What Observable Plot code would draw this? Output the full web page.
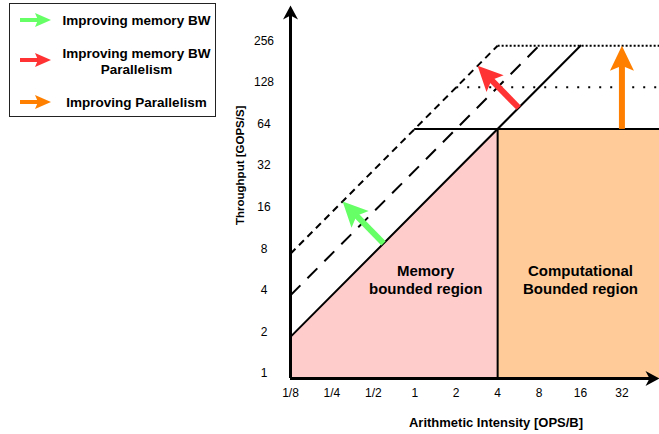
<!DOCTYPE html>
<html>
<head>
<meta charset="utf-8">
<script src="https://cdn.jsdelivr.net/npm/d3@7"></script>
<script src="https://cdn.jsdelivr.net/npm/@observablehq/plot@0.6"></script>
<style>
  body { margin: 0; background: #fff; }
  #chart { position: relative; width: 659px; height: 434px; font-family: "Liberation Sans", Arial, sans-serif; }
  #chart svg { position: absolute; left: 0; top: 0; }
</style>
</head>
<body>
<div id="chart"></div>
<script>
// Axis ticks: arithmetic intensity (OPS/B) and throughput (GOPS/S)
const xTicks = [0.125, 0.25, 0.5, 1, 2, 4, 8, 16, 32];
const xTickLabels = ["1/8", "1/4", "1/2", "1", "2", "4", "8", "16", "32"];
const yTicks = [1, 2, 4, 8, 16, 32, 64, 128, 256];
const xDomain = [0.125, 60];
const yDomain = [1, 500];
const xTitle = "Arithmetic Intensity [OPS/B]";
const yTitle = "Throughput [GOPS/S]";

// Bandwidth roofs (slanted) and compute roofs (flat)
const memoryRoof = [{x: 0.125, y: 2}, {x: 16, y: 256}];
const memoryRoofFaster = [{x: 0.125, y: 4}, {x: 8, y: 256}];
const memoryRoofFastest = [{x: 0.125, y: 8}, {x: 4, y: 256}];
const computeRoof = [{x: 1, y: 64}, {x: 60, y: 64}];
const computeRoof128 = [{x: 2, y: 128}, {x: 60, y: 128}];
const computeRoof256 = [{x: 4, y: 256}, {x: 60, y: 256}];
const ridge = [{x: 4, y: 1}, {x: 4, y: 64}];

// Shaded regions
const memoryRegion = [{x: 0.125, y: 2}, {x: 4, y: 64}];
const computeRegion = [{x1: 4, x2: 60, y1: 1, y2: 64}];
const regionLabels = [
  {x: 1.2, y: 5.2, text: "Memory\nbounded region"},
  {x: 16, y: 5.2, text: "Computational\nBounded region"}
];

// Improvement arrows: tail (x1, y1) to tip (x2, y2)
const arrows = [
  {x1: 0.593, y1: 9.5, x2: 0.299, y2: 19.1, color: "#66ff66"},
  {x1: 5.69, y1: 91, x2: 2.86, y2: 183, color: "#ff3333"},
  {x1: 32, y1: 64, x2: 32, y2: 256, color: "#ff8000"}
];

const legendItems = [
  {lines: ["Improving memory BW"], color: "#66ff66"},
  {lines: ["Improving memory BW", "Parallelism"], color: "#ff3333"},
  {lines: ["Improving Parallelism"], color: "#ff8000"}
];

const W = 659, H = 434, mL = 290, mR = 0, mT = 5, mB = 56;
const pxX = (W - mL - mR) / Math.log2(xDomain[1] / xDomain[0]);
const pxY = (H - mT - mB) / Math.log2(yDomain[1] / yDomain[0]);

// Filled, notched arrowhead pointing up with its tip at the origin
function arrowHead(len, width, notch) {
  return {
    draw(ctx) {
      ctx.moveTo(0, 0);
      ctx.lineTo(width / 2, len);
      ctx.lineTo(0, len - notch);
      ctx.lineTo(-width / 2, len);
      ctx.closePath();
    }
  };
}

// Shaft stops inside the head; head is rotated along the arrow direction
const shafts = arrows.map(a => {
  const dx = Math.log2(a.x2 / a.x1) * pxX;
  const dy = Math.log2(a.y2 / a.y1) * pxY;
  const len = Math.hypot(dx, dy);
  const t = 1 - 14 / len;
  return {
    ...a,
    sx: a.x1 * Math.pow(a.x2 / a.x1, t),
    sy: a.y1 * Math.pow(a.y2 / a.y1, t),
    rotate: Math.atan2(dx, dy) * 180 / Math.PI
  };
});

const yAxisEnd = yDomain[1] / Math.pow(2, 8 / pxY);
const xAxisEnd = xDomain[1] / Math.pow(2, 8 / pxX);

const plot = Plot.plot({
  width: W, height: H,
  marginLeft: mL, marginRight: mR, marginTop: mT, marginBottom: mB,
  style: {fontFamily: '"Liberation Sans", Arial, sans-serif', fontSize: "12px", color: "#000", background: "transparent", overflow: "visible"},
  x: {type: "log", base: 2, domain: xDomain, axis: null},
  y: {type: "log", base: 2, domain: yDomain, axis: null},
  color: {type: "identity"},
  marks: [
    Plot.areaY(memoryRegion, {x: "x", y1: 1, y2: "y", fill: "#ffcccc"}),
    Plot.rect(computeRegion, {x1: "x1", x2: "x2", y1: "y1", y2: "y2", fill: "#ffcc99"}),
    Plot.line(ridge, {x: "x", y: "y", stroke: "#000", strokeWidth: 2}),
    Plot.line(memoryRoof, {x: "x", y: "y", stroke: "#000", strokeWidth: 2}),
    Plot.line(memoryRoofFaster, {x: "x", y: "y", stroke: "#000", strokeWidth: 2, strokeDasharray: "14 10", strokeLinecap: "butt"}),
    Plot.line(memoryRoofFastest, {x: "x", y: "y", stroke: "#000", strokeWidth: 2, strokeDasharray: "7 5", strokeLinecap: "butt"}),
    Plot.line(computeRoof, {x: "x", y: "y", stroke: "#000", strokeWidth: 2}),
    Plot.line(computeRoof128, {x: "x", y: "y", stroke: "#000", strokeWidth: 2, strokeDasharray: "2 9", strokeLinecap: "butt"}),
    Plot.line(computeRoof256, {x: "x", y: "y", stroke: "#000", strokeWidth: 2, strokeDasharray: "2 2", strokeLinecap: "butt"}),
    Plot.text(regionLabels, {x: "x", y: "y", text: "text", fontSize: 15, fontWeight: "bold", lineHeight: 1.2, fill: "#000"}),
    Plot.link(shafts, {x1: "x1", y1: "y1", x2: "sx", y2: "sy", stroke: "color", strokeWidth: 6, strokeLinecap: "butt"}),
    Plot.dot(shafts, {x: "x2", y: "y2", symbol: arrowHead(25, 24, 5), rotate: "rotate", fill: "color", stroke: "none"}),
    // axes with arrowheads
    Plot.ruleX([xDomain[0]], {y1: 1, y2: yAxisEnd, stroke: "#000", strokeWidth: 3}),
    Plot.ruleY([1], {x1: xDomain[0], x2: xAxisEnd, stroke: "#000", strokeWidth: 3}),
    Plot.dot([{x: xDomain[0], y: yDomain[1]}], {x: "x", y: "y", symbol: arrowHead(14, 15, 4), fill: "#000", stroke: "none"}),
    Plot.dot([{x: xDomain[1], y: 1}], {x: "x", y: "y", symbol: arrowHead(14, 15, 4), rotate: 90, fill: "#000", stroke: "none"}),
    Plot.axisX(xTicks, {tickSize: 0, tickPadding: 10, tickFormat: d => xTickLabels[xTicks.indexOf(d)], label: null, fontSize: 12}),
    Plot.axisY(yTicks, {tickSize: 0, tickPadding: 26.5, textAnchor: "middle", dy: -5, label: null, fontSize: 12}),
    Plot.text([xTitle], {frameAnchor: "bottom", dx: 21, dy: 48, text: d => d, fontWeight: "bold", fontSize: 13}),
    Plot.text([yTitle], {frameAnchor: "left", dx: -50, dy: 33, rotate: -90, text: d => d, fontWeight: "bold", fontSize: 11.5})
  ]
});
document.getElementById("chart").appendChild(plot);

// Legend box in the top-left corner
const legend = d3.select("#chart").append("svg")
  .attr("width", 230).attr("height", 125)
  .style("font-family", '"Liberation Sans", Arial, sans-serif');
legend.append("rect").attr("x", 9.5).attr("y", 3.5).attr("width", 206).attr("height", 113)
  .attr("fill", "#fff").attr("stroke", "#222").attr("stroke-width", 1);
const rows = [
  {arrowY: 20, textY: [20]},
  {arrowY: 60, textY: [53, 69]},
  {arrowY: 102, textY: [102]}
];
legendItems.forEach((item, i) => {
  const r = rows[i];
  legend.append("line").attr("x1", 20).attr("x2", 40).attr("y1", r.arrowY).attr("y2", r.arrowY)
    .attr("stroke", item.color).attr("stroke-width", 4);
  legend.append("path")
    .attr("d", `M51,${r.arrowY} L35,${r.arrowY - 7} L38,${r.arrowY} L35,${r.arrowY + 7} Z`)
    .attr("fill", item.color);
  item.lines.forEach((line, j) => {
    legend.append("text").attr("x", 136.5).attr("y", r.textY[j]).attr("dy", "0.35em")
      .attr("text-anchor", "middle").attr("font-weight", "bold").attr("font-size", "13.5px")
      .text(line);
  });
});
</script>
</body>
</html>
